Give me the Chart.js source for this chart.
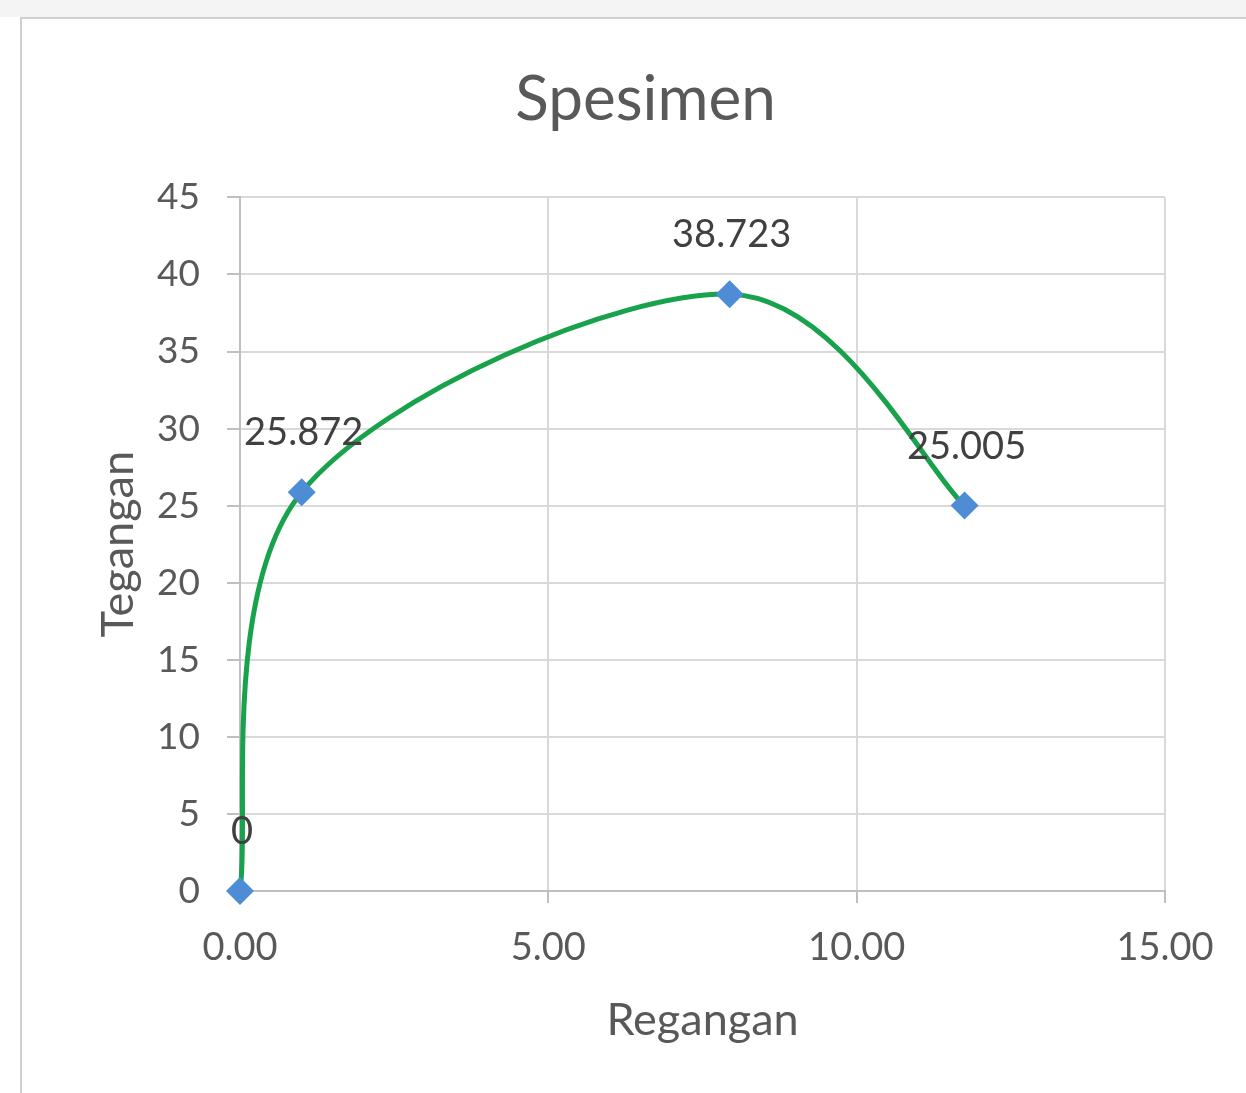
<!DOCTYPE html>
<html><head><meta charset="utf-8">
<script src="https://cdn.jsdelivr.net/npm/chart.js@4.4.1/dist/chart.umd.min.js"></script>
<style>html,body{margin:0;padding:0;background:#fff;overflow:hidden;}</style>
</head><body>
<canvas id="c" width="1246" height="1093"></canvas>
<script>
const chartTitle = 'Spesimen';
const xAxisTitle = 'Regangan';
const yAxisTitle = 'Tegangan';
const regangan = [0, 1.0, 7.94, 11.75];
const tegangan = [0, 25.872, 38.723, 25.005];
const pointLabels = ['0', '25.872', '38.723', '25.005'];
const xRange = [0, 15];
const yRange = [0, 45];
const xStep = 5;
const yStep = 5;

const textColor = '#595959';
const FONT = 'Lato, "Open Sans", sans-serif';

const framePlugin = {
  id: 'frame',
  beforeDraw(chart) {
    const ctx = chart.ctx;
    ctx.save();
    ctx.fillStyle = '#ffffff';
    ctx.fillRect(0, 0, chart.width, chart.height);
    ctx.fillStyle = '#f4f4f4';
    ctx.fillRect(0, 0, chart.width, 17);
    ctx.strokeStyle = '#d0d0d0';
    ctx.lineWidth = 2;
    ctx.beginPath();
    ctx.moveTo(20, 18); ctx.lineTo(chart.width, 18);
    ctx.moveTo(21, 18); ctx.lineTo(21, chart.height);
    ctx.stroke();
    ctx.restore();
  }
};

// Excel-style smoothing (Catmull-Rom, factor 1/6) applied to the line's bezier control points
const smoothPlugin = {
  id: 'excelSmooth',
  beforeDatasetDraw(chart, args) {
    const meta = args.meta;
    const line = meta.dataset;
    if (!line) return;
    line.updateControlPoints(chart.chartArea, meta.indexAxis);
    const pts = meta.data;
    const n = pts.length;
    const dist = (a, b) => Math.hypot(b.x - a.x, b.y - a.y);
    for (let i = 0; i < n - 1; i++) {
      const p0 = pts[i - 1] || pts[i];
      const p1 = pts[i];
      const p2 = pts[i + 1];
      const p3 = pts[i + 2] || pts[i + 1];
      const d02 = dist(p0, p2), d12 = dist(p1, p2), d13 = dist(p1, p3);
      let f1 = 1 / 6, f2 = 1 / 6;
      if (d02 > 0 && d02 / 6 > d12 / 2) f1 = d12 / (2 * d02);
      if (d13 > 0 && d13 / 6 > d12 / 2) f2 = d12 / (2 * d13);
      p1.cp2x = p1.x + f1 * (p2.x - p0.x);
      p1.cp2y = p1.y + f1 * (p2.y - p0.y);
      p2.cp1x = p2.x - f2 * (p3.x - p1.x);
      p2.cp1y = p2.y - f2 * (p3.y - p1.y);
    }
  }
};

const labelPlugin = {
  id: 'pointLabels',
  afterDatasetsDraw(chart) {
    const ctx = chart.ctx;
    const meta = chart.getDatasetMeta(0);
    ctx.save();
    ctx.font = '38px ' + FONT;
    ctx.fillStyle = '#404040';
    ctx.textAlign = 'center';
    ctx.textBaseline = 'middle';
    meta.data.forEach((pt, i) => {
      ctx.fillText(pointLabels[i], pt.x + 2, pt.y - 59);
    });
    ctx.restore();
  }
};

new Chart(document.getElementById('c'), {
  type: 'scatter',
  data: {
    datasets: [{
      label: chartTitle,
      data: regangan.map((x, i) => ({x: x, y: tegangan[i]})),
      showLine: true,
      clip: false,
      borderColor: '#17a24b',
      borderWidth: 5,
      tension: 0.3,
      capBezierPoints: false,
      pointStyle: 'rectRot',
      pointRadius: 14,
      pointHoverRadius: 14,
      pointBackgroundColor: '#4e8dd5',
      pointBorderColor: '#4e8dd5',
      pointBorderWidth: 0
    }]
  },
  options: {
    responsive: false,
    animation: false,
    devicePixelRatio: 1,
    layout: {padding: {left: 126, right: 81, top: 0, bottom: 46}},
    plugins: {
      legend: {display: false},
      tooltip: {enabled: false},
      title: {
        display: true,
        text: chartTitle,
        color: textColor,
        font: {family: FONT, size: 62, weight: 'normal', lineHeight: 1.2},
        padding: {top: 63, bottom: 60}
      }
    },
    scales: {
      x: {
        type: 'linear',
        min: xRange[0], max: xRange[1],
        afterFit(s) { s.height = 156; },
        ticks: {
          stepSize: xStep,
          color: textColor,
          font: {family: FONT, size: 38},
          padding: 22,
          callback: v => Number(v).toFixed(2)
        },
        grid: {color: '#d9d9d9', lineWidth: 2, tickLength: 12, tickColor: '#bfbfbf', tickWidth: 2},
        border: {color: '#bfbfbf', width: 2},
        title: {
          display: true, text: xAxisTitle, color: textColor,
          font: {family: FONT, size: 45, lineHeight: 1.2},
          padding: {top: 0, bottom: 0}
        }
      },
      y: {
        type: 'linear',
        min: yRange[0], max: yRange[1],
        afterFit(s) { s.width = 114; },
        ticks: {
          stepSize: yStep,
          color: textColor,
          font: {family: FONT, size: 37},
          padding: 27
        },
        grid: {color: '#d9d9d9', lineWidth: 2, tickLength: 13, tickColor: '#bfbfbf', tickWidth: 2},
        border: {color: '#bfbfbf', width: 2},
        title: {
          display: true, text: yAxisTitle, color: textColor,
          font: {family: FONT, size: 45, lineHeight: 1.2},
          padding: {top: -35, bottom: 0}
        }
      }
    }
  },
  plugins: [framePlugin, smoothPlugin, labelPlugin]
});
</script>
</body></html>
